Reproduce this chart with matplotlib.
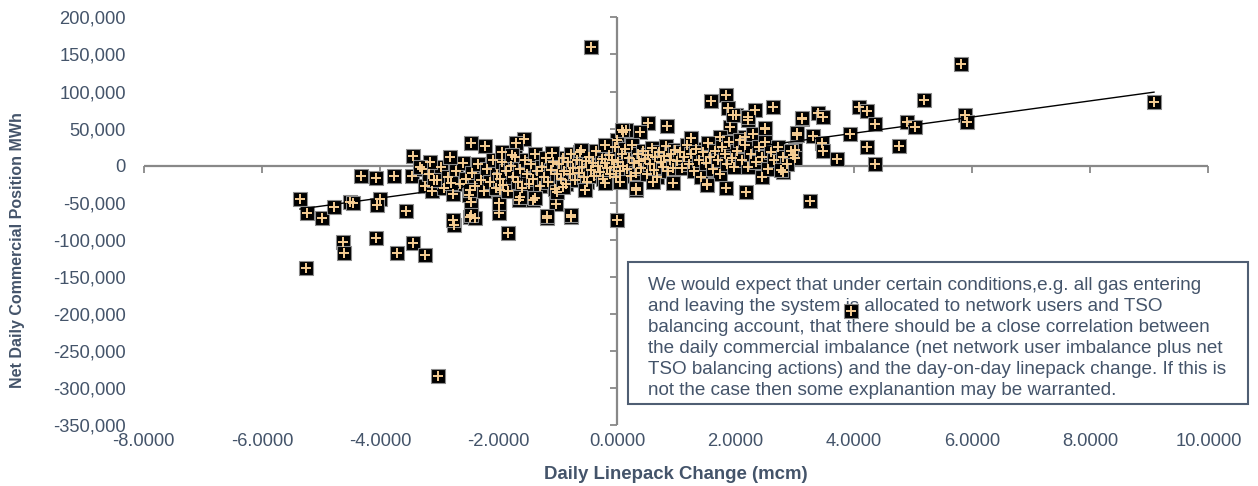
import numpy as np
import matplotlib
matplotlib.use("Agg")
import matplotlib.pyplot as plt
from matplotlib.patches import Rectangle

plt.rcParams['font.family'] = ['Liberation Sans', 'DejaVu Sans']

# ---- data: daily linepack change (mcm) vs net daily commercial position (thousand MWh)
outlier_x = [-5.36, -5.24, -4.99, -4.78, -4.52, -4.47, -4.32, -4.07, -4.01, -4.06,
             -3.77, -3.56, -3.44, -3.47, -4.64, -4.62, -4.07, -3.72, -3.44, -3.24,
             -5.25, -2.76, -3.02, -1.85, -1.18, -0.77, -0.005, -2.00, -2.49, -2.40,
             -1.03, -2.00, -1.42, -1.65, -0.44, -2.47, -2.23, -1.58, -1.70, -0.54,
             0.11, 0.00, 1.59, 1.84, 1.88, 2.02, 2.33, 2.22, 2.64, 2.50,
             1.91, 2.16, 0.53, 0.84, 1.25, 1.74, 0.33, 1.53, 1.85, 2.19,
             2.45, 2.80, 2.98, 0.39, 0.16, 5.81, 5.19, 4.10, 4.23, 4.36,
             3.40, 3.48, 3.12, 3.04, 3.32, 3.46, 3.49, 3.72, 3.94, 4.22,
             4.36, 4.76, 4.90, 5.04, 5.88, 5.91, 3.26, 3.01, 3.01, 9.08,
             3.96, -2.46, -2.77, -1.98, -1.19, -0.77, -2.46, -2.00]
outlier_y = [-45.7, -64.6, -71.4, -55.7, -49.0, -51.0, -13.8, -16.5, -45.7, -53.4,
             -14.2, -61.5, 12.8, -14.2, -103.8, -117.8, -98.0, -118.6, -104.3, -121.0,
             -138.0, -80.4, -284.5, -91.6, -71.4, -69.2, -73.6, -64.6, -69.2, -71.4,
             -52.0, -51.0, -46.6, -46.6, 159.7, 30.0, 26.8, 35.8, 30.0, -33.1,
             45.7, 34.5, 87.2, 95.3, 77.3, 68.2, 75.0, 61.5, 79.5, 48.9,
             51.6, 38.9, 57.8, 53.8, 36.8, 38.9, -33.1, -25.0, -30.8, -35.4,
             -15.1, -8.4, 14.2, 45.7, 48.0, 136.8, 88.5, 79.5, 73.6, 55.7,
             71.4, 66.0, 62.4, 41.2, 39.9, 30.0, 19.6, 8.4, 42.2, 24.6,
             1.6, 26.8, 59.2, 51.6, 68.2, 59.2, -47.6, 21.0, 9.7, 85.4,
             -196.6, -48.9, -73.7, -33.0, -68.3, -66.9, -66.9, -51.0]

cluster_x = [-3.30, -3.25, -3.18, -3.12, -3.05, -2.98, -2.92, -2.85, -2.78, -2.72,
             -2.66, -2.60, -2.55, -2.50, -2.45, -2.40, -2.35, -2.30, -2.25, -2.20,
             -2.15, -2.10, -2.05, -2.02, -1.98, -1.95, -1.92, -1.88, -1.85, -1.80,
             -1.76, -1.72, -1.68, -1.64, -1.60, -1.56, -1.52, -1.48, -1.45, -1.42,
             -1.38, -1.35, -1.30, -1.27, -1.24, -1.20, -1.16, -1.12, -1.08, -1.05,
             -1.02, -0.98, -0.95, -0.92, -0.89, -0.86, -0.83, -0.80, -0.77, -0.74,
             -0.71, -0.68, -0.65, -0.62, -0.59, -0.56, -0.53, -0.50, -0.47, -0.44,
             -0.41, -0.38, -0.35, -0.32, -0.29, -0.26, -0.23, -0.20, -0.17, -0.14,
             -0.11, -0.08, -0.05, -0.03, -0.01, 0.02, 0.05, 0.08, 0.11, 0.14,
             0.17, 0.20, 0.23, 0.26, 0.29, 0.32, 0.35, 0.38, 0.41, 0.44,
             0.47, 0.50, 0.53, 0.56, 0.59, 0.62, 0.65, 0.68, 0.71, 0.74,
             0.77, 0.80, 0.83, 0.86, 0.89, 0.92, 0.95, 0.98, 1.02, 1.06,
             1.10, 1.14, 1.18, 1.22, 1.26, 1.30, 1.34, 1.38, 1.42, 1.46,
             1.50, 1.54, 1.58, 1.62, 1.66, 1.70, 1.74, 1.78, 1.82, 1.86,
             1.90, 1.94, 1.98, 2.03, 2.08, 2.12, 2.17, 2.22, 2.26, 2.30,
             2.35, 2.40, 2.45, 2.50, 2.55, 2.60, 2.65, 2.72, 2.80, 2.88,
             2.95, -2.82, -3.16, -3.33, -3.10, -2.80, -2.49, -1.64, -1.39, -1.02,
             -0.91, -0.54, -0.20, 0.05, 0.33, 0.61, 0.95, 1.52, 2.78, -1.95,
             -1.78, -1.10, -0.60, -0.20, 0.08, 1.26, 1.97, 2.22, 2.50, 3.04,
             3.12]
cluster_y = [-5, -28, -12, -35, -20, -2, -30, -15, -38, -8,
             -25, 3, -18, -40, -10, -28, 2, -20, -35, -5,
             -22, 8, -30, -12, -18, 5, -26, -8, -35, 0,
             -15, 12, -22, -5, -30, 8, -12, -25, 2, -18,
             15, -8, -28, -2, -15, 10, -22, -6, 5, -32,
             -12, 2, -18, 10, -8, -25, 5, -12, 15, -3,
             -20, 8, -10, 18, -2, -15, 6, -22, 12, -6,
             3, -14, 20, 0, -9, 9, -18, 4, -4, 14,
             -12, 7, -2, 25, -15, 5, -8, 15, 0, 22,
             -5, 10, -14, 28, 3, -10, 16, 6, -4, 20,
             9, -12, 14, 2, 24, -6, 11, -15, 18, 5,
             -2, 13, 26, -8, 8, 16, -3, 21, 6, 18,
             -4, 12, 28, 2, 15, -8, 22, 8, -15, 18,
             4, 30, 12, -5, 20, 8, -12, 25, 15, 2,
             32, 10, -2, 20, 35, 8, 28, -2, 15, 42,
             5, 25, 12, 32, -5, 18, 8, 25, 12, 2,
             20, 12, 5.2, -1.6, -19.6, -24, -33, -42, -44.4, -35.4,
             -28.6, -33, -24, -21.9, -30.9, -21.9, -24, -26.4, -6.1, 18.7,
             14.2, 16.4, 21, 27.7, 48, 36.7, 68.2, 66, 50.2, 43.5,
             63.7]

# linear trendline (thousand MWh per mcm, thousand MWh)
trend_slope = 10.94
trend_intercept = -0.2

x_ticks = [-8, -6, -4, -2, 0, 2, 4, 6, 8, 10]
y_ticks = [200000, 150000, 100000, 50000, 0, -50000, -100000, -150000,
           -200000, -250000, -300000, -350000]

note = ("We would expect that under certain conditions,e.g. all gas entering\n"
        "and leaving the system is allocated to network users and TSO\n"
        "balancing account, that there should be a close correlation between\n"
        "the daily commercial imbalance (net network user imbalance plus net\n"
        "TSO balancing actions) and the day-on-day linepack change. If this is\n"
        "not the case then some explanantion may be warranted.")

x = np.array(outlier_x + cluster_x)
y = np.array(outlier_y + cluster_y) * 1000.0

TXT = '#44546A'
AX = '#888888'

fig = plt.figure(figsize=(12.58, 4.86), dpi=100)
ax = fig.add_axes([0.1143, 0.1265, 0.8463, 0.8375])
ax.set_xlim(-8, 10)
ax.set_ylim(-350000, 200000)
for s in ax.spines.values():
    s.set_visible(False)

# axes through zero
ax.axhline(0, color=AX, lw=1.6, zorder=2)
ax.axvline(0, color=AX, lw=1.6, zorder=2)
ax.plot(x_ticks, np.zeros(len(x_ticks)), linestyle='none', marker=3,
        markersize=5, color=AX, markeredgewidth=1.3, zorder=2, clip_on=False)
ax.plot(np.zeros(len(y_ticks)), y_ticks, linestyle='none', marker=0,
        markersize=5, color=AX, markeredgewidth=1.3, zorder=2, clip_on=False)

ax.set_xticks(x_ticks)
ax.set_xticklabels([f"{v:.4f}" for v in x_ticks])
ax.set_yticks(y_ticks)
ax.set_yticklabels([f"{v:,.0f}" for v in y_ticks])
ax.tick_params(axis='x', length=0, pad=6, labelsize=13.2, labelcolor=TXT)
ax.tick_params(axis='y', length=0, pad=13, labelsize=13.2, labelcolor=TXT)

fig.text(676 / 1258, 1 - 474 / 486, 'Daily Linepack Change (mcm)', ha='center',
         va='center', fontsize=13.4, fontweight='bold', color=TXT)
fig.text(18 / 1258, 1 - 250 / 486, 'Net Daily Commercial Position MWh', ha='center',
         va='center', rotation=90, fontsize=11.5, fontweight='bold', color=TXT)

# note box (beneath markers)
box = Rectangle((628 / 1258, 1 - 404 / 486), 620 / 1258, 142 / 486,
                transform=fig.transFigure, facecolor='white', edgecolor='#4F5E73',
                lw=1.5, zorder=3, clip_on=False)
ax.add_patch(box)
ax.text(648 / 1258, 1 - 277 / 486, note, transform=fig.transFigure, ha='left',
        va='top', fontsize=13.6, color=TXT, linespacing=1.3, zorder=3.5,
        clip_on=False)

# markers
ax.scatter(x, y, marker='s', s=100, facecolor='black', edgecolor='#8C8C8C',
           linewidths=0.8, zorder=4)
xs = np.array([x.min(), x.max()])
ax.plot(xs, (trend_slope * xs + trend_intercept) * 1000.0, color='black',
        lw=1.0, zorder=5)
ax.scatter(x, y, marker='+', s=55, color='#F6CD92', linewidths=1.4, zorder=6)

fig.savefig('out.png', dpi=100, facecolor='white')
